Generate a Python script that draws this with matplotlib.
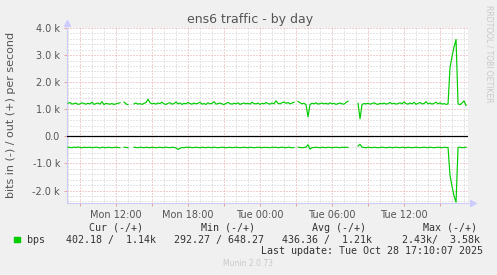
import numpy as np
import matplotlib.pyplot as plt
from matplotlib.ticker import FixedLocator, MultipleLocator

nan = np.nan

# 10-minute samples, starting Mon 08:00 (hours counted from Mon 00:00)
start_hour = 8.0
step_min = 10

# bits out per second, in k
out_k = [
    1.22, 1.25, 1.19, 1.21, 1.23, 1.18, 1.20, 1.24, 1.21, 1.19,
    1.22, 1.20, 1.26, 1.18, 1.21, 1.23, 1.19, 1.28, 1.17, 1.22,
    1.20, 1.19, 1.21, 1.18, 1.20, 1.22, 1.24, nan, 1.27, 1.20,
    1.17, nan, nan, 1.20, 1.23, 1.19, 1.21, 1.18, 1.22, 1.25,
    1.37, 1.24, 1.20, 1.22, 1.19, 1.23, 1.21, 1.26, 1.20, 1.18,
    1.22, 1.24, 1.19, 1.21, 1.27, 1.20, 1.23, 1.18, 1.22, 1.20,
    1.25, 1.21, 1.19, 1.23, 1.20, 1.22, 1.26, 1.19, 1.21, 1.18,
    1.24, 1.20, 1.22, 1.28, 1.19, 1.21, 1.23, 1.20, 1.17, 1.22,
    1.25, 1.21, 1.19, 1.22, 1.20, 1.24, 1.18, 1.21, 1.23, 1.20,
    1.22, 1.19, 1.26, 1.21, 1.20, 1.23, 1.18, 1.22, 1.20, 1.25,
    1.21, 1.19, 1.23, 1.20, 1.31, 1.22, 1.20, 1.24, 1.27, 1.22,
    1.25, 1.20, 1.23, 1.26, nan, 1.29, 1.24, 1.20, 1.22, 1.17,
    0.72, 1.18, 1.22, 1.20, 1.24, 1.19, 1.21, 1.23, 1.20, 1.22,
    1.19, 1.24, 1.20, 1.22, 1.18, 1.21, 1.23, 1.20, 1.19, 1.25,
    1.30, nan, nan, nan, nan, 1.22, 0.65, 1.18, 1.21, 1.20,
    1.22, 1.19, 1.21, 1.24, 1.20, 1.18, 1.22, 1.20, 1.23, 1.19,
    1.21, 1.25, 1.20, 1.22, 1.19, 1.21, 1.24, 1.20, 1.27, 1.21,
    1.19, 1.23, 1.20, 1.26, 1.18, 1.22, 1.25, 1.20, 1.21, 1.28,
    1.20, 1.23, 1.19, 1.22, 1.26, 1.20, 1.24, 1.19, 1.21, 1.18,
    1.20, 2.55, 2.95, 3.30, 3.58, 1.20, 1.17, 1.23, 1.31, 1.14,
]

# bits in per second (drawn below zero)
in_bps = [
    400, 410, 420, 400, 410, 390, 410, 420, 400, 410,
    410, 400, 420, 410, 400, 410, 430, 400, 410, 420,
    400, 410, 420, 410, 400, 410, 420, nan, 400, 410,
    420, nan, nan, 400, 410, 420, 400, 410, 420, 400,
    410, 420, 400, 410, 420, 410, 400, 420, 410, 400,
    410, 420, 400, 410, 430, 480, 440, 410, 420, 400,
    410, 400, 420, 410, 400, 410, 420, 400, 410, 420,
    400, 410, 420, 400, 410, 420, 410, 400, 410, 420,
    410, 400, 420, 410, 400, 410, 420, 410, 400, 410,
    420, 400, 410, 420, 410, 400, 410, 420, 400, 410,
    410, 420, 400, 410, 400, 420, 410, 400, 410, 420,
    400, 410, 420, 410, nan, 400, 410, 420, 410, 400,
    310, 470, 420, 410, 400, 410, 420, 400, 410, 420,
    400, 410, 420, 410, 400, 410, 420, 400, 410, 400,
    410, nan, nan, nan, nan, 360, 292, 400, 410, 420,
    400, 410, 420, 400, 410, 420, 410, 400, 410, 420,
    410, 400, 420, 410, 400, 410, 420, 400, 410, 420,
    400, 410, 420, 410, 400, 410, 420, 410, 400, 410,
    420, 400, 410, 420, 410, 400, 410, 420, 400, 410,
    410, 1450, 1850, 2200, 2430, 410, 400, 420, 410, 402,
]

x_ticks = [12, 18, 24, 30, 36]
x_labels = ["Mon 12:00", "Mon 18:00", "Tue 00:00", "Tue 06:00", "Tue 12:00"]
y_ticks = [-2000, -1000, 0, 1000, 2000, 3000, 4000]
y_labels = ["-2.0 k", "-1.0 k", "0.0", "1.0 k", "2.0 k", "3.0 k", "4.0 k"]

hours = start_hour + np.arange(len(out_k)) * step_min / 60
out_vals = np.array(out_k) * 1000
in_vals = -np.array(in_bps, dtype=float)

W, H = 497, 275
fig = plt.figure(figsize=(W / 100, H / 100), dpi=100, facecolor="#f0f0f0")
ax = fig.add_axes([67 / W, 1 - 203 / H, (468 - 67) / W, (203 - 28) / H])
ax.set_facecolor("white")

green = "#00cc00"
ax.plot(hours, out_vals, color=green, lw=0.85, zorder=4)
ax.plot(hours, in_vals, color=green, lw=0.85, zorder=4)
ax.axhline(0, color="black", lw=0.9, zorder=3)

ax.set_xlim(7.917, 41.33)
ax.set_ylim(-2460, 4000)

major_h = list(range(9, 42, 3))
ax.xaxis.set_major_locator(FixedLocator(major_h))
ax.xaxis.set_minor_locator(MultipleLocator(1))
ax.set_xticks(major_h)
ax.set_xticklabels([x_labels[x_ticks.index(h)] if h in x_ticks else "" for h in major_h])
ax.set_yticks(y_ticks)
ax.set_yticklabels(y_labels)
ax.yaxis.set_minor_locator(MultipleLocator(200))

dots = (0, (1, 2))
ax.grid(which="minor", color="#cccccc", lw=0.72, linestyle=dots, zorder=1)
ax.grid(which="major", color="#e4a0a0", lw=0.72, linestyle=dots, zorder=2)
ax.set_axisbelow(True)

ax.tick_params(which="major", length=2, width=0.7, color="#e4a0a0",
               labelsize=7, labelcolor="#555555", pad=3)
ax.tick_params(which="minor", length=0)

for s in ["top", "right"]:
    ax.spines[s].set_visible(False)
for s in ["left", "bottom"]:
    ax.spines[s].set_color("#ccccff")
    ax.spines[s].set_linewidth(0.8)
ax.plot([0], [1.03], marker="^", ms=4, color="#ccccff", transform=ax.transAxes, clip_on=False)
ax.plot([1.012], [0], marker=">", ms=4, color="#ccccff", transform=ax.transAxes, clip_on=False)

fig.text(250 / W, 1 - 20 / H, "ens6 traffic - by day", ha="center", va="center",
         fontsize=9, color="#555555")
fig.text(11 / W, 1 - 115 / H, "bits in (-) / out (+) per second", rotation=90,
         ha="center", va="center", fontsize=8, color="#555555")
fig.text(489 / W, 1 - 5 / H, "RRDTOOL / TOBI OETIKER", rotation=270,
         ha="center", va="top", fontsize=5.5, color="#c8c8c8")

mono = dict(family="DejaVu Sans Mono", fontsize=7.2, color="#333333", va="center")


def px(x, y):
    return x / W, 1 - y / H


for x, t in [(89, "Cur (-/+)"), (201, "Min (-/+)"), (312, "Avg (-/+)"), (423, "Max (-/+)")]:
    fig.text(*px(x, 228), t, ha="left", **mono)

fig.patches.append(plt.Rectangle(px(14, 242), 6 / W, 5 / H, transform=fig.transFigure,
                                 color=green, figure=fig))
fig.text(*px(26.5, 240), "bps", ha="left", **mono)
for x, t in [(65.5, "402.18 /  1.14k"), (173.5, "292.27 / 648.27"),
             (282.5, "436.36 /  1.21k"), (402.5, "2.43k/  3.58k")]:
    fig.text(*px(x, 240), t, ha="left", **mono)
fig.text(*px(483, 251.5), "Last update: Tue Oct 28 17:10:07 2025", ha="right", **mono)
fig.text(*px(248, 264), "Munin 2.0.73", ha="center", va="center", fontsize=5.5, color="#c8c8c8")

fig.savefig("out.png", dpi=100, facecolor=fig.get_facecolor())
